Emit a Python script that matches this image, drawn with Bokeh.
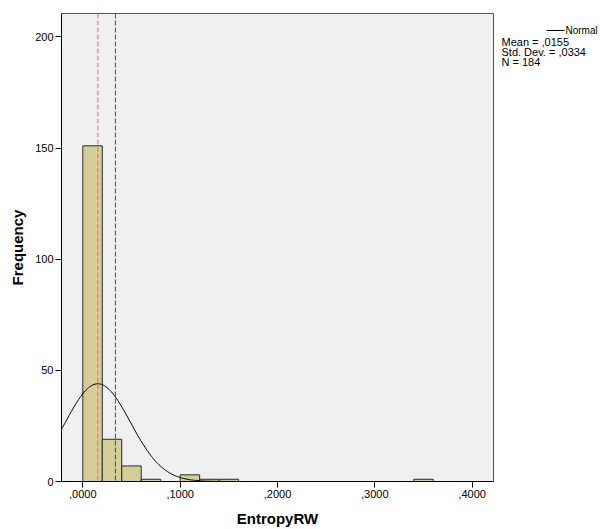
import numpy as np
from bokeh.plotting import figure
from bokeh.layouts import row
from bokeh.models import Range1d, FixedTicker, Span
from bokeh.core.properties import value
from bokeh.embed import file_html
from bokeh.resources import INLINE

# ---- data ----
BIN_LEFT = [0.00, 0.02, 0.04, 0.06, 0.10, 0.12, 0.14, 0.34]
COUNTS = [151, 19, 7, 1, 3, 1, 1, 1]
BIN_WIDTH = 0.02
MEAN = 0.0155
SD = 0.0334
N = 184
REF_LINE = 0.0335
X_TICKS = [0.0, 0.1, 0.2, 0.3, 0.4]
X_TICK_LABELS = [",0000", ",1000", ",2000", ",3000", ",4000"]
Y_TICKS = [0, 50, 100, 150, 200]
LEGEND_LABEL = "Normal"
STATS = ["Mean = ,0155", "Std. Dev. = ,0334", "N = 184"]

FONT = "Liberation Sans"
TOP, BOTTOM = 13, 48

p = figure(width=494, height=529, output_backend="svg", toolbar_location=None,
           x_range=Range1d(-0.0219, 0.4219), y_range=Range1d(0, 210.5),
           min_border_left=61, min_border_right=1, min_border_top=TOP,
           min_border_bottom=BOTTOM)
p.background_fill_color = "#F0F0F0"
p.border_fill_color = "white"
p.outline_line_color = "#555555"
p.outline_line_width = 1
p.grid.visible = False

bin_right = [l + BIN_WIDTH for l in BIN_LEFT]
p.quad(left=BIN_LEFT, right=bin_right, bottom=0, top=COUNTS,
       fill_color="#D3CE97", line_color="#2a2a2a", line_width=1)

# normal curve from the stated parameters
xs = np.linspace(-0.0219, 0.4219, 400)
ys = N * BIN_WIDTH * np.exp(-0.5 * ((xs - MEAN) / SD) ** 2) / (SD * np.sqrt(2 * np.pi))
p.line(xs, ys, line_color="black", line_width=1)

p.add_layout(Span(location=MEAN, dimension="height", line_color="#EE6A6A",
                  line_dash="5 2", line_width=1))
p.add_layout(Span(location=REF_LINE, dimension="height", line_color="#47477F",
                  line_dash="5 2", line_width=1))

for ax in (p.xaxis[0], p.yaxis[0]):
    ax.axis_line_color = "black"
    ax.major_tick_line_color = "black"
    ax.major_tick_in = 0
    ax.major_tick_out = 6
    ax.minor_tick_line_color = None
    ax.major_label_text_font = FONT
    ax.major_label_text_font_size = "11px"
    ax.major_label_text_color = "black"
    ax.axis_label_text_font = FONT
    ax.axis_label_text_font_size = "15px"
    ax.axis_label_text_font_style = "bold"
    ax.axis_label_text_color = "black"
    ax.major_label_standoff = 2

p.xaxis.ticker = FixedTicker(ticks=X_TICKS)
p.xaxis.major_label_overrides = {t: l for t, l in zip(X_TICKS, X_TICK_LABELS)}
p.yaxis.ticker = FixedTicker(ticks=Y_TICKS)
p.xaxis.axis_label = "EntropyRW"
p.yaxis.axis_label = "Frequency"
p.xaxis.axis_label_standoff = 9
p.yaxis.axis_label_standoff = 6

# ---- legend panel to the right (pixel coordinates of the page, y downwards) ----
W2 = 106
H2 = 529
lg = figure(width=W2, height=H2, output_backend="svg", toolbar_location=None,
            x_range=Range1d(0, W2), y_range=Range1d(H2 - BOTTOM, TOP),
            min_border_left=0, min_border_right=0, min_border_top=TOP,
            min_border_bottom=BOTTOM, x_axis_location=None, y_axis_location=None)
lg.outline_line_color = None
lg.grid.visible = False
lg.background_fill_color = "white"
lg.border_fill_color = "white"

lg.line([52, 70], [30, 30], line_color="black", line_width=1)
lg.text(x=[71], y=[30], text=[LEGEND_LABEL], text_font=value(FONT),
        text_font_size=value("10px"), text_baseline="middle", text_color="black")
lg.text(x=[7] * len(STATS), y=[41 + 10.3 * i for i in range(len(STATS))], text=STATS,
        text_font=value(FONT), text_font_size=value("11px"),
        text_baseline="middle", text_color="black")

layout = row(p, lg, spacing=0)
open("out.html", "w").write(file_html(layout, INLINE))
